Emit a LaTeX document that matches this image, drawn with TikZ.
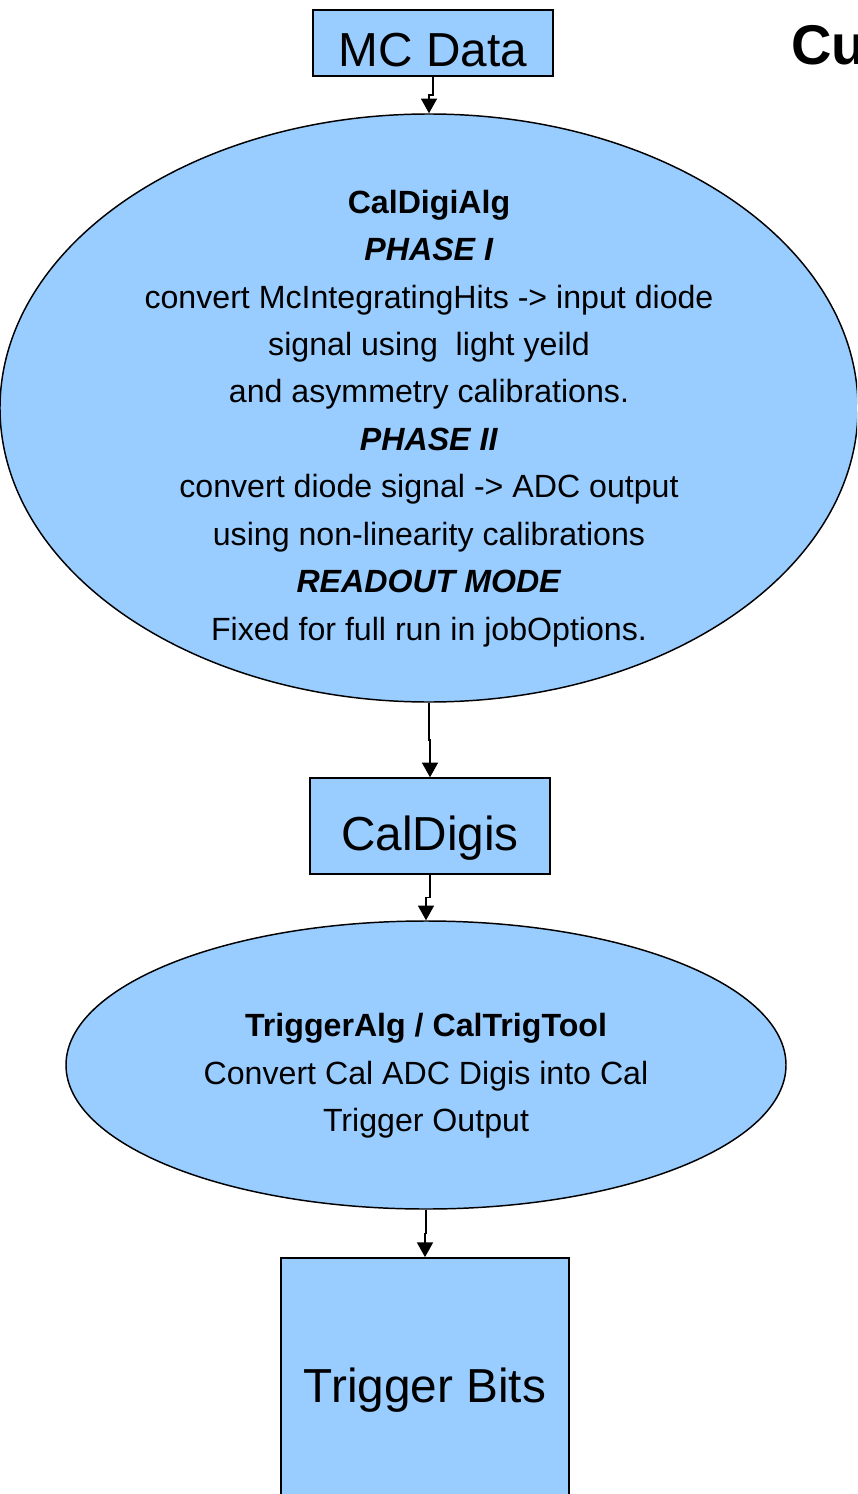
\documentclass[tikz,border=0pt]{standalone}
\usepackage{fontspec}
\setmainfont{Liberation Sans}
\usetikzlibrary{arrows.meta,shapes.geometric,calc}

\definecolor{boxblue}{RGB}{153,204,255}

\begin{document}
\begin{tikzpicture}[x=0.75pt,y=-0.75pt,>={Triangle[length=11pt,width=12pt]},
 box/.style={draw,line width=1.1pt,fill=boxblue,inner sep=0pt,text height=36pt,text depth=0pt,
   font=\fontsize{35.8}{42}\selectfont},
 oval/.style={draw,line width=1.1pt,fill=boxblue,ellipse,align=center,inner xsep=0pt,inner ysep=-45pt,
   font=\fontsize{24.1}{35.6}\selectfont},
 flow/.style={->,line width=1.1pt}]
\useasboundingbox (0,0) rectangle (857,1494);
\clip (0,0) rectangle (857,1494);
\node[box,minimum width=180pt,minimum height=49.5pt] (mc) at (433,43) {MC Data};
\node[oval,minimum width=643.5pt,minimum height=441pt] (digi) at (429,408)
 {\rule{0pt}{33pt}\textbf{CalDigiAlg}\\\textbf{\textit{PHASE I}}\\
  convert McIntegratingHits -> input diode\\signal using\ \ light yeild\\
  and asymmetry calibrations.\\\textbf{\textit{PHASE II}}\\
  convert diode signal -> ADC output\\using non-linearity calibrations\\
  \textbf{\textit{READOUT MODE}}\\Fixed for full run in jobOptions.};
\node[box,minimum width=180pt,minimum height=72pt] (digis) at (430,826) {CalDigis};
\node[oval,minimum width=540pt,minimum height=216pt] (trig) at (426,1065)
 {\rule{0pt}{34pt}\textbf{TriggerAlg / CalTrigTool}\\Convert Cal ADC Digis into Cal\\Trigger Output};
\node[box,minimum width=216pt,minimum height=181pt] (bits) at (425,1378.5) {Trigger Bits};
\node[anchor=base west,inner sep=0pt,font=\fontsize{42}{50}\selectfont\bfseries] (cu) at (791,65) {Cu};
% connectors with the small jog half way
\draw[flow] (mc.south) |- ($(mc.south)!0.5!(digi.north)$) -| (digi.north);
\draw[flow] (digi.south) |- ($(digi.south)!0.5!(digis.north)$) -| (digis.north);
\draw[flow] (digis.south) |- ($(digis.south)!0.5!(trig.north)$) -| (trig.north);
\draw[flow] (trig.south) |- ($(trig.south)!0.5!(bits.north)$) -| (bits.north);
\end{tikzpicture}
\end{document}
